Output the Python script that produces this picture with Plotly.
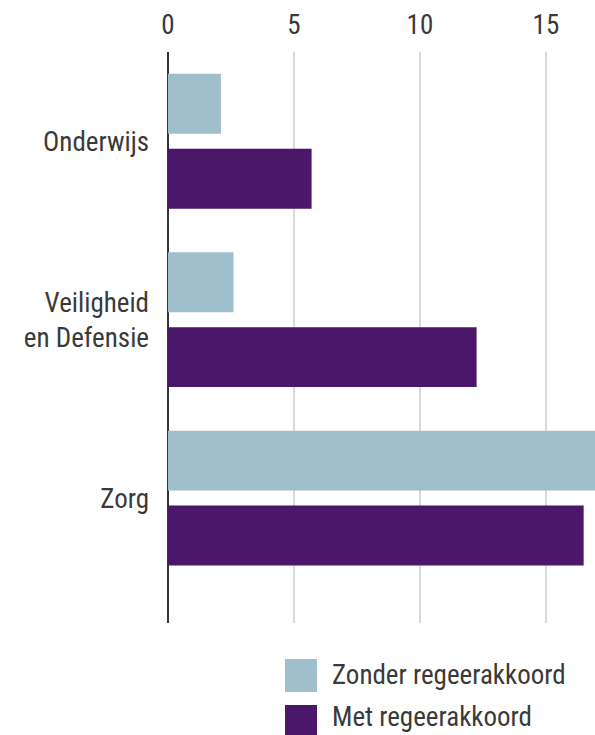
import plotly.graph_objects as go

# Data
categories = ["Onderwijs", "Veiligheid<br>en Defensie", "Zorg"]
zonder = [2.1, 2.6, 17.3]
met = [5.7, 12.25, 16.5]
series_names = ["Zonder regeerakkoord", "Met regeerakkoord"]
x_ticks = [0, 5, 10, 15]

C_ZONDER = "#9fbfcd"
C_MET = "#4a176a"
FONT = "Liberation Sans Narrow, Roboto Condensed, Roboto, sans-serif"
TXT = "#3a3a3a"

fig = go.Figure()
fig.add_trace(go.Bar(
    name=series_names[0], y=categories, x=zonder, orientation="h",
    marker=dict(color=C_ZONDER, line=dict(width=0)),
))
fig.add_trace(go.Bar(
    name=series_names[1], y=categories, x=met, orientation="h",
    marker=dict(color=C_MET, line=dict(width=0)),
))

# handmade legend with big squares (paper coords)
legend_rows = [(-0.063, -0.1208, -0.091), (-0.1436, -0.2014, -0.165)]
for (y0, y1, yt), name, col in zip(legend_rows, series_names, [C_ZONDER, C_MET]):
    fig.add_shape(type="rect", xref="paper", yref="paper",
                  x0=0.274, x1=0.349, y0=y0, y1=y1,
                  fillcolor=col, line_width=0)
    fig.add_annotation(xref="paper", yref="paper", x=0.379, y=yt,
                       text=name, showarrow=False, xanchor="left", yanchor="middle",
                       font=dict(size=27, color=TXT, family=FONT))

fig.update_layout(
    width=595, height=735,
    margin=dict(l=168, r=0, t=52, b=112),
    barmode="group", bargap=0.16, bargroupgap=0.2,
    plot_bgcolor="white", paper_bgcolor="white",
    showlegend=False,
    font=dict(family=FONT, size=27, color=TXT),
    xaxis=dict(
        side="top", range=[0, 16.95], tickvals=x_ticks,
        showgrid=True, gridcolor="#d9d9d9", gridwidth=1.5,
        zeroline=True, zerolinecolor="#333333", zerolinewidth=2,
        ticks="", ticklabelstandoff=12,
        tickfont=dict(size=27, color=TXT), showline=False,
    ),
    yaxis=dict(
        range=[2.70, -0.5], showgrid=False, zeroline=False,
        ticks="", ticklabelstandoff=18,
        tickfont=dict(size=27, color=TXT),
    ),
)

# drop the default body margin so the figure fills the window exactly
fig.write_html(
    "out.html",
    config={"displayModeBar": False},
    post_script="document.body.style.margin='0';document.body.style.overflow='hidden';",
)
